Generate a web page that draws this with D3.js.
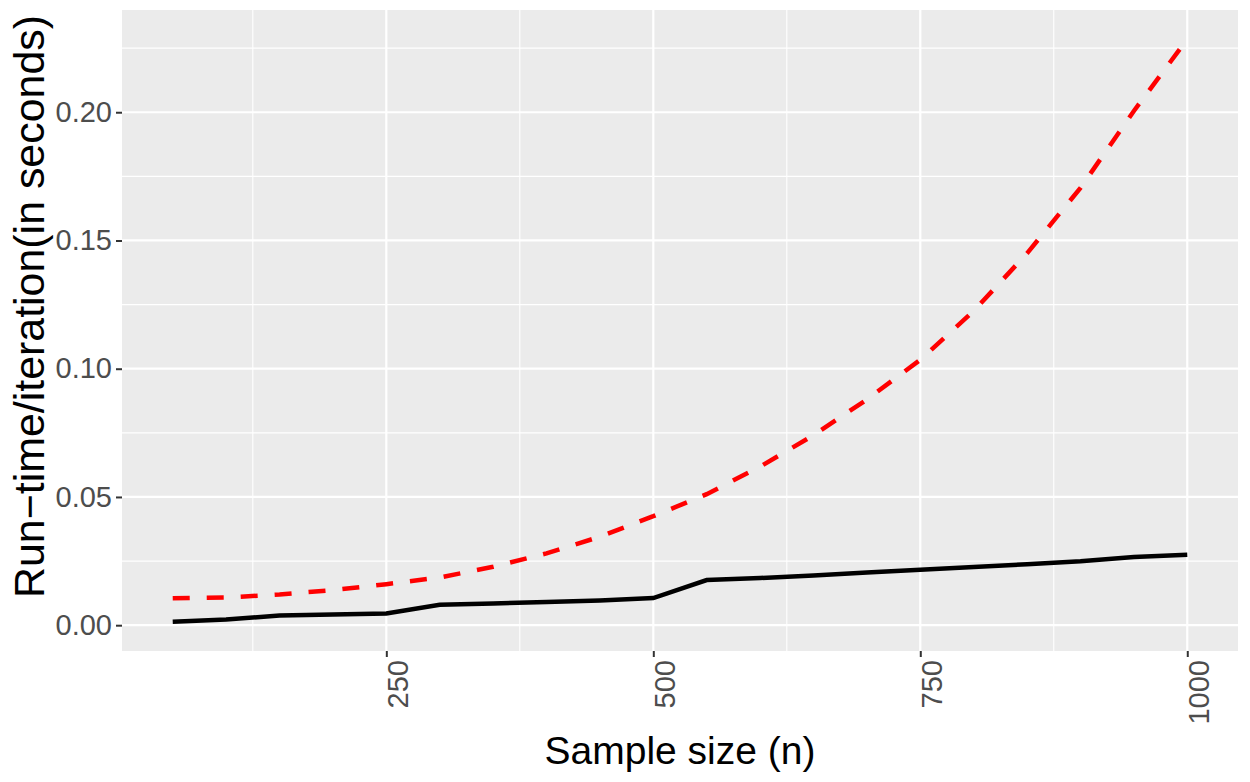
<!DOCTYPE html>
<html>
<head>
<meta charset="utf-8">
<script src="https://cdn.jsdelivr.net/npm/d3@7"></script>
<style>
  body { margin: 0; background: #fff; }
  svg { display: block; font-family: "Liberation Sans", Arial, sans-serif; }
</style>
</head>
<body>
<svg id="chart" width="1250" height="782"></svg>
<script>
// sample sizes and run times
const sampleSizes = [50, 100, 150, 200, 250, 300, 350, 400, 450, 500, 550, 600, 650, 700, 750, 800, 850, 900, 950, 1000]
const solidTimes = [0.0013, 0.0022, 0.0038, 0.0042, 0.0046, 0.0080, 0.0085, 0.0090, 0.0096, 0.0106, 0.0176, 0.0184, 0.0194, 0.0205, 0.0216, 0.0227, 0.0238, 0.0249, 0.0266, 0.0275]
const dashedTimes = [0.0105, 0.0108, 0.0120, 0.0137, 0.0160, 0.0186, 0.0228, 0.0280, 0.0345, 0.0425, 0.0511, 0.0618, 0.0741, 0.0880, 0.1035, 0.1225, 0.1450, 0.1705, 0.2005, 0.2285]
const xTicks = [250, 500, 750, 1000]
const xMinor = [125, 375, 625, 875]
const yTicks = [0, 0.05, 0.10, 0.15, 0.20]
const yMinor = [0.025, 0.075, 0.125, 0.175, 0.225]

const svg = d3.select('#chart')
const panel = {left: 122, right: 1238, top: 10, bottom: 651}

// ggplot style 5% expansion
const xExt = d3.extent(sampleSizes)
const xPad = (xExt[1] - xExt[0]) * 0.05
const allY = solidTimes.concat(dashedTimes)
const yExt = d3.extent(allY)
const yPad = (yExt[1] - yExt[0]) * 0.05

const x = d3.scaleLinear().domain([xExt[0] - xPad, xExt[1] + xPad]).range([panel.left, panel.right])
const y = d3.scaleLinear().domain([yExt[0] - yPad, yExt[1] + yPad]).range([panel.bottom, panel.top])

svg.append('rect')
  .attr('x', panel.left).attr('y', panel.top)
  .attr('width', panel.right - panel.left).attr('height', panel.bottom - panel.top)
  .attr('fill', '#EBEBEB')

let grid = svg.append('g')
grid.selectAll('.ymin').data(yMinor).enter().append('line')
  .attr('x1', panel.left).attr('x2', panel.right)
  .attr('y1', d => y(d)).attr('y2', d => y(d))
  .attr('stroke', '#fff').attr('stroke-width', 1.1)
grid.selectAll('.xmin').data(xMinor).enter().append('line')
  .attr('y1', panel.top).attr('y2', panel.bottom)
  .attr('x1', d => x(d)).attr('x2', d => x(d))
  .attr('stroke', '#fff').attr('stroke-width', 1.1)
grid.selectAll('.ymaj').data(yTicks).enter().append('line')
  .attr('x1', panel.left).attr('x2', panel.right)
  .attr('y1', d => y(d)).attr('y2', d => y(d))
  .attr('stroke', '#fff').attr('stroke-width', 2.2)
grid.selectAll('.xmaj').data(xTicks).enter().append('line')
  .attr('y1', panel.top).attr('y2', panel.bottom)
  .attr('x1', d => x(d)).attr('x2', d => x(d))
  .attr('stroke', '#fff').attr('stroke-width', 2.2)

const line = d3.line().x(d => x(d[0])).y(d => y(d[1]))

svg.append('path')
  .datum(sampleSizes.map((n, i) => [n, dashedTimes[i]]))
  .attr('d', line)
  .attr('fill', 'none').attr('stroke', '#FF0000')
  .attr('stroke-width', 4.5).attr('stroke-dasharray', '17 17')

svg.append('path')
  .datum(sampleSizes.map((n, i) => [n, solidTimes[i]]))
  .attr('d', line)
  .attr('fill', 'none').attr('stroke', '#000')
  .attr('stroke-width', 4.5)

// axes
const xAxis = svg.append('g')
  .attr('transform', `translate(0,${panel.bottom})`)
  .call(d3.axisBottom(x).tickValues(xTicks).tickSize(6).tickFormat(d3.format('d')))
xAxis.select('.domain').remove()
xAxis.selectAll('line').attr('stroke', '#333').attr('stroke-width', 2)
xAxis.selectAll('text')
  .attr('fill', '#4D4D4D').attr('font-size', 29)
  .attr('transform', 'rotate(-90)')
  .attr('text-anchor', 'end')
  .attr('x', -9).attr('y', 0).attr('dy', '0.72em')

const yAxis = svg.append('g')
  .attr('transform', `translate(${panel.left},0)`)
  .call(d3.axisLeft(y).tickValues(yTicks).tickSize(6).tickPadding(4).tickFormat(d3.format('.2f')))
yAxis.select('.domain').remove()
yAxis.selectAll('line').attr('stroke', '#333').attr('stroke-width', 2)
yAxis.selectAll('text')
  .attr('fill', '#4D4D4D').attr('font-size', 29)

svg.append('text')
  .attr('x', 680).attr('y', 764)
  .attr('text-anchor', 'middle')
  .attr('font-size', 39)
  .text('Sample size (n)')

svg.append('text')
  .attr('transform', 'translate(44,598) rotate(-90)')
  .attr('text-anchor', 'start')
  .attr('font-size', 42)
  .attr('textLength', 583)
  .attr('lengthAdjust', 'spacingAndGlyphs')
  .text('Run\u2212time/iteration(in seconds)')
</script>
</body>
</html>
